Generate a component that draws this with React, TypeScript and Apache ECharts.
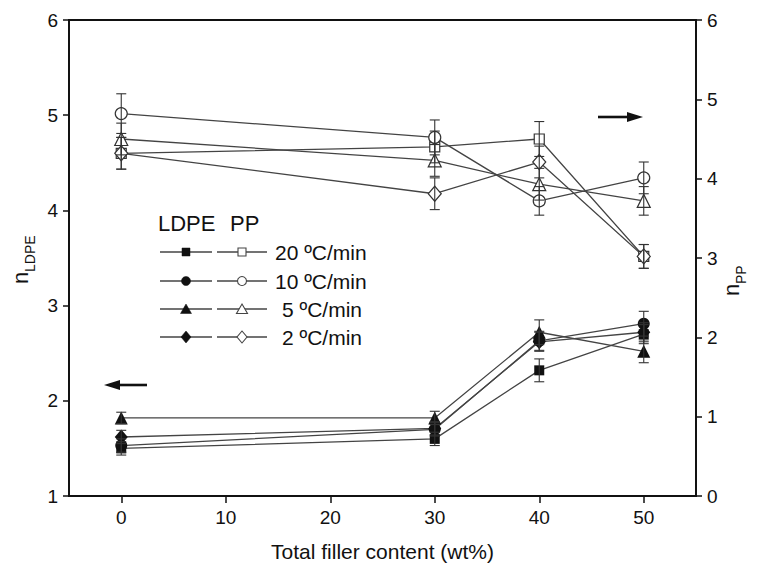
import React, { useEffect, useRef } from "react";
import * as echarts from "echarts";

// ---- data ----
const xValues = [0, 30, 40, 50];
const xTicks = [0, 10, 20, 30, 40, 50];
const rateLabels = ["20 ºC/min", "10 ºC/min", "5 ºC/min", "2 ºC/min"];
const symbols = ["rect", "circle", "triangle", "diamond"];

const ldpe20 = [1.5, 1.6, 2.32, 2.7];
const ldpe10 = [1.53, 1.7, 2.63, 2.81];
const ldpe5 = [1.82, 1.82, 2.72, 2.52];
const ldpe2 = [1.62, 1.71, 2.62, 2.72];
const ldpeErr20 = [0.07, 0.07, 0.12, 0.1];
const ldpeErr10 = [0.07, 0.07, 0.1, 0.13];
const ldpeErr5 = [0.06, 0.07, 0.13, 0.12];
const ldpeErr2 = [0.07, 0.07, 0.1, 0.1];

const pp20 = [4.32, 4.4, 4.5, 3.02];
const pp10 = [4.82, 4.52, 3.72, 4.01];
const pp5 = [4.5, 4.23, 3.93, 3.72];
const pp2 = [4.32, 3.81, 4.21, 3.02];
const ppErr20 = [0.2, 0.2, 0.22, 0.15];
const ppErr10 = [0.25, 0.22, 0.18, 0.2];
const ppErr5 = [0.2, 0.2, 0.2, 0.18];
const ppErr2 = [0.2, 0.2, 0.2, 0.15];

const ldpeSets = [ldpe20, ldpe10, ldpe5, ldpe2];
const ldpeErrs = [ldpeErr20, ldpeErr10, ldpeErr5, ldpeErr2];
const ppSets = [pp20, pp10, pp5, pp2];
const ppErrs = [ppErr20, ppErr10, ppErr5, ppErr2];

const FONT = "Arial, 'Liberation Sans', Helvetica, sans-serif";
const INK = "#111";
const LINE = "#444";

const symSize = (s: string) =>
  s === "diamond" ? [13, 15] : s === "circle" ? 12 : s === "triangle" ? 13 : 10;

function lineSeries(vals: number[], sym: string, filled: boolean, yAxisIndex: number, name: string) {
  return {
    name,
    type: "line",
    yAxisIndex,
    data: xValues.map((x, i) => [x, vals[i]]),
    symbol: sym,
    symbolSize: symSize(sym),
    showAllSymbol: true,
    lineStyle: { color: LINE, width: 1.3 },
    itemStyle: filled
      ? { color: INK, borderColor: INK, borderWidth: 0 }
      : { color: "#fff", borderColor: "#333", borderWidth: 1.2 },
    z: 3,
    silent: true,
  };
}

function errorSeries(vals: number[], errs: number[], yAxisIndex: number) {
  return {
    type: "custom",
    yAxisIndex,
    silent: true,
    z: 4,
    data: xValues.map((x, i) => [x, vals[i] - errs[i], vals[i] + errs[i]]),
    encode: { x: 0, y: [1, 2] },
    renderItem: (params: any, api: any) => {
      const lo = api.coord([api.value(0), api.value(1)]);
      const hi = api.coord([api.value(0), api.value(2)]);
      const w = 5;
      const style = { stroke: "#333", lineWidth: 1.1, fill: "none" };
      return {
        type: "group",
        children: [
          { type: "line", shape: { x1: lo[0], y1: lo[1], x2: hi[0], y2: hi[1] }, style },
          { type: "line", shape: { x1: lo[0] - w, y1: lo[1], x2: lo[0] + w, y2: lo[1] }, style },
          { type: "line", shape: { x1: hi[0] - w, y1: hi[1], x2: hi[0] + w, y2: hi[1] }, style },
        ],
      };
    },
  };
}

function legendMarker(sym: string, cx: number, cy: number, filled: boolean) {
  const style = filled
    ? { fill: INK, stroke: INK, lineWidth: 0.5 }
    : { fill: "#fff", stroke: "#444", lineWidth: 1.1 };
  if (sym === "rect") return { type: "rect", shape: { x: cx - 4, y: cy - 4, width: 8, height: 8 }, style };
  if (sym === "circle") return { type: "circle", shape: { cx, cy, r: 4.5 }, style };
  if (sym === "triangle")
    return { type: "polygon", shape: { points: [[cx, cy - 5], [cx + 5.5, cy + 4.5], [cx - 5.5, cy + 4.5]] }, style };
  return { type: "polygon", shape: { points: [[cx, cy - 6], [cx + 5, cy], [cx, cy + 6], [cx - 5, cy]] }, style };
}

function buildLegend() {
  const rowsY = [252, 281, 309, 337];
  const els: any[] = [
    { type: "text", x: 158, y: 223, style: { text: "LDPE", font: `22px ${FONT}`, fill: INK, verticalAlign: "middle" } },
    { type: "text", x: 230, y: 223, style: { text: "PP", font: `22px ${FONT}`, fill: INK, verticalAlign: "middle" } },
  ];
  rateLabels.forEach((lab, i) => {
    const y = rowsY[i];
    const ls = { stroke: LINE, lineWidth: 1.3 };
    els.push({ type: "line", shape: { x1: 160, y1: y, x2: 212, y2: y }, style: ls });
    els.push({ type: "line", shape: { x1: 217, y1: y, x2: 267, y2: y }, style: ls });
    els.push(legendMarker(symbols[i], 186, y, true));
    els.push(legendMarker(symbols[i], 242, y, false));
    const tx = lab.startsWith("2 ") || lab.startsWith("5 ") ? 282 : 275;
    els.push({ type: "text", x: tx, y, style: { text: lab, font: `21px ${FONT}`, fill: INK, verticalAlign: "middle" } });
  });
  return els;
}

function arrows() {
  const st = { stroke: INK, lineWidth: 2.6 };
  return [
    { type: "line", shape: { x1: 598, y1: 117, x2: 630, y2: 117 }, style: st },
    { type: "polygon", shape: { points: [[627, 112], [643, 117], [627, 122]] }, style: { fill: INK } },
    { type: "line", shape: { x1: 117, y1: 385, x2: 147, y2: 385 }, style: st },
    { type: "polygon", shape: { points: [[120, 380], [104, 385], [120, 390]] }, style: { fill: INK } },
  ];
}

function axisTitles() {
  return [
    {
      type: "group",
      x: 31,
      y: 284,
      rotation: Math.PI / 2,
      children: [
        { type: "text", x: 0, y: 0, style: { text: "n", font: `22px ${FONT}`, fill: INK, verticalAlign: "bottom" } },
        { type: "text", x: 12, y: 6, style: { text: "LDPE", font: `14px ${FONT}`, fill: INK, verticalAlign: "bottom" } },
      ],
    },
    {
      type: "group",
      x: 742,
      y: 296,
      rotation: Math.PI / 2,
      children: [
        { type: "text", x: 0, y: 0, style: { text: "n", font: `22px ${FONT}`, fill: INK, verticalAlign: "bottom" } },
        { type: "text", x: 12, y: 6, style: { text: "PP", font: `14px ${FONT}`, fill: INK, verticalAlign: "bottom" } },
      ],
    },
  ];
}

export default function App() {
  const ref = useRef<HTMLDivElement>(null);
  useEffect(() => {
    if (!ref.current) return;
    const chart = echarts.init(ref.current, null, { renderer: "svg" });
    const series: any[] = [];
    ppSets.forEach((v, i) => series.push(lineSeries(v, symbols[i], false, 1, "PP " + rateLabels[i])));
    ldpeSets.forEach((v, i) => series.push(lineSeries(v, symbols[i], true, 0, "LDPE " + rateLabels[i])));
    ppSets.forEach((v, i) => series.push(errorSeries(v, ppErrs[i], 1)));
    ldpeSets.forEach((v, i) => series.push(errorSeries(v, ldpeErrs[i], 0)));

    const yCommon = {
      type: "value",
      interval: 1,
      splitLine: { show: false },
      axisLine: { show: true, onZero: false, lineStyle: { color: INK, width: 1.8 } },
      axisTick: { show: true, length: 6, lineStyle: { color: INK, width: 1.5 } },
      axisLabel: { color: INK, fontSize: 19, fontFamily: FONT, margin: 11 },
    };

    chart.setOption({
      animation: false,
      backgroundColor: "#fff",
      grid: {
        left: 69,
        right: 64,
        top: 20,
        bottom: 69,
        show: true,
        borderColor: INK,
        borderWidth: 1.8,
        backgroundColor: "transparent",
      },
      xAxis: {
        type: "value",
        min: -5,
        max: 55,
        splitLine: { show: false },
        axisLine: { show: true, onZero: false, lineStyle: { color: INK, width: 1.8 } },
        axisTick: { show: true, length: 7, customValues: xTicks, lineStyle: { color: INK, width: 1.5 } },
        axisLabel: { customValues: xTicks, color: INK, fontSize: 19, fontFamily: FONT, margin: 12 },
        name: "Total filler content (wt%)",
        nameLocation: "middle",
        nameGap: 45,
        nameTextStyle: { color: INK, fontSize: 21, fontFamily: FONT },
      },
      yAxis: [
        { ...yCommon, min: 1, max: 6, position: "left" },
        { ...yCommon, min: 0, max: 6, position: "right" },
      ],
      graphic: [...buildLegend(), ...arrows(), ...axisTitles()],
      series,
    });
    return () => chart.dispose();
  }, []);
  return <div ref={ref} style={{ width: 760, height: 567, position: "absolute", left: 0, top: 0 }} />;
}
